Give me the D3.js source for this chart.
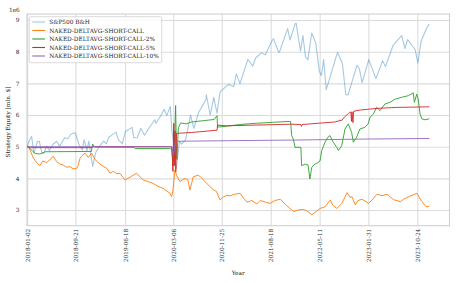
<!DOCTYPE html>
<html><head><meta charset="utf-8">
<script src="https://cdn.jsdelivr.net/npm/d3@7"></script>
<style>
body{margin:0;background:#fff}
svg{display:block}
text{font-family:"DejaVu Serif",serif;fill:#262626}
</style>
</head><body>
<svg id="chart" width="457" height="283"></svg>
<script>
const xTickLabels = ["2018-01-02","2018-09-21","2019-06-18","2020-03-06","2020-11-25","2021-08-18","2022-05-11","2023-01-31","2023-10-24"];
const yTickValues = [3,4,5,6,7,8,9];
const seriesNames = ["S&P500 B&H","NAKED-DELTAVG-SHORT-CALL","NAKED-DELTAVG-SHORT-CALL-2%","NAKED-DELTAVG-SHORT-CALL-5%","NAKED-DELTAVG-SHORT-CALL-10%"];
const seriesColors = ["#1f77b4","#ff7f0e","#2ca02c","#d62728","#9467bd"];
const seriesOpacity = [0.4,1,1,1,1];

const sp500 = [
["2018-01-02",5.00],["2018-01-12",5.17],["2018-01-26",5.33],["2018-02-08",4.79],["2018-02-26",5.16],["2018-03-09",5.17],
["2018-03-23",4.80],["2018-04-02",4.79],["2018-04-18",5.02],["2018-05-03",4.88],["2018-05-21",5.07],["2018-06-12",5.17],
["2018-06-27",5.01],["2018-07-25",5.28],["2018-08-10",5.25],["2018-08-29",5.40],["2018-09-20",5.44],["2018-10-11",5.06],
["2018-10-29",4.90],["2018-11-07",5.22],["2018-11-23",4.88],["2018-12-03",5.18],["2018-12-24",4.38],["2019-01-10",4.82],
["2019-01-31",5.02],["2019-02-22",5.18],["2019-03-08",5.09],["2019-03-21",5.29],["2019-04-12",5.39],["2019-04-30",5.46],
["2019-05-13",5.22],["2019-06-03",5.09],["2019-06-20",5.48],["2019-07-26",5.61],["2019-08-05",5.28],["2019-08-23",5.28],
["2019-09-12",5.58],["2019-10-02",5.36],["2019-10-31",5.63],["2019-11-27",5.85],["2019-12-03",5.74],["2019-12-31",5.99],
["2020-01-17",6.18],["2020-01-31",5.98],["2020-02-19",6.28],["2020-02-28",5.48],["2020-03-09",5.09],["2020-03-16",4.50],
["2020-03-23",4.32],["2020-04-09",5.17],["2020-04-21",5.08],["2020-05-13",5.23],["2020-06-08",6.00],["2020-06-26",5.58],
["2020-07-22",6.08],["2020-08-31",6.49],["2020-09-02",6.64],["2020-09-23",6.00],["2020-10-12",6.56],["2020-10-30",6.06],
["2020-11-16",6.73],["2020-12-31",6.97],["2021-01-29",6.89],["2021-02-12",7.30],["2021-03-04",6.99],["2021-04-16",7.76],
["2021-05-12",7.54],["2021-05-28",7.80],["2021-06-30",7.97],["2021-07-19",7.90],["2021-08-27",8.36],["2021-09-02",8.41],
["2021-09-30",7.99],["2021-10-04",7.98],["2021-11-18",8.73],["2021-12-01",8.37],["2021-12-29",8.89],["2022-01-03",8.90],
["2022-01-27",8.02],["2022-02-09",8.51],["2022-02-23",7.84],["2022-03-08",7.74],["2022-03-29",8.59],["2022-04-20",8.27],
["2022-05-09",7.40],["2022-05-20",7.24],["2022-06-02",7.75],["2022-06-16",6.80],["2022-07-08",7.23],["2022-08-16",7.98],
["2022-09-12",7.62],["2022-09-30",6.65],["2022-10-12",6.63],["2022-11-30",7.57],["2022-12-13",7.46],["2022-12-28",7.02],
["2023-02-02",7.75],["2023-03-13",7.15],["2023-04-18",7.71],["2023-05-04",7.53],["2023-06-15",8.21],["2023-07-31",8.51],
["2023-08-18",8.10],["2023-09-01",8.38],["2023-10-12",8.07],["2023-10-27",7.64],["2023-11-14",8.34],["2023-12-14",8.75],
["2023-12-28",8.87]
];

const shortCall = [
["2018-01-02",5.00],["2018-01-12",4.97],["2018-02-04",4.65],["2018-02-22",4.50],["2018-03-12",4.40],["2018-03-28",4.55],
["2018-04-17",4.50],["2018-05-05",4.58],["2018-05-23",4.70],["2018-06-11",4.53],["2018-06-29",4.45],["2018-07-17",4.42],
["2018-08-04",4.35],["2018-08-22",4.37],["2018-09-09",4.30],["2018-09-28",4.32],["2018-10-06",4.40],["2018-10-16",4.63],
["2018-10-25",4.70],["2018-11-12",4.80],["2018-11-30",4.66],["2018-12-18",4.80],["2019-01-05",4.60],["2019-02-01",4.45],
["2019-02-19",4.38],["2019-03-10",4.32],["2019-03-28",4.16],["2019-04-15",4.22],["2019-05-03",4.15],["2019-05-21",4.16],
["2019-06-17",3.95],["2019-07-05",4.00],["2019-08-01",4.10],["2019-08-20",4.16],["2019-09-07",4.05],["2019-09-25",3.95],
["2019-10-20",3.90],["2019-11-18",3.84],["2019-12-14",3.75],["2020-01-12",3.68],["2020-02-01",3.60],["2020-02-17",3.53],
["2020-02-26",3.42],["2020-03-04",3.60],["2020-03-15",4.26],["2020-03-24",4.10],["2020-04-11",3.90],["2020-05-09",4.00],
["2020-05-25",3.95],["2020-06-05",3.63],["2020-06-23",4.05],["2020-07-20",4.10],["2020-08-07",4.02],["2020-08-25",3.90],
["2020-09-22",3.74],["2020-10-08",3.65],["2020-10-28",3.58],["2020-11-15",3.32],["2020-12-01",3.40],["2020-12-23",3.47],
["2021-01-08",3.45],["2021-02-05",3.50],["2021-03-05",3.53],["2021-03-20",3.40],["2021-04-11",3.25],["2021-05-08",3.30],
["2021-06-03",3.19],["2021-06-22",3.30],["2021-07-27",3.24],["2021-08-16",3.21],["2021-09-10",3.30],["2021-10-09",3.34],
["2021-11-13",3.14],["2021-12-21",2.95],["2022-01-13",3.00],["2022-02-12",3.02],["2022-03-09",2.95],["2022-03-30",2.85],
["2022-04-21",2.95],["2022-05-14",3.05],["2022-06-09",3.10],["2022-07-08",3.32],["2022-07-22",3.15],["2022-08-13",3.05],
["2022-09-09",3.21],["2022-10-07",3.55],["2022-10-23",3.40],["2022-11-03",3.42],["2022-11-21",3.16],["2022-12-05",3.30],
["2022-12-27",3.34],["2023-02-02",3.21],["2023-02-25",3.35],["2023-03-19",3.50],["2023-04-15",3.45],["2023-05-12",3.50],
["2023-05-28",3.42],["2023-06-18",3.32],["2023-07-06",3.30],["2023-07-23",3.26],["2023-08-13",3.35],["2023-09-07",3.42],
["2023-10-01",3.48],["2023-10-22",3.53],["2023-11-08",3.35],["2023-11-19",3.26],["2023-12-05",3.14],["2023-12-16",3.10],
["2023-12-28",3.12]
];

const shortCall2 = [
["2018-01-02",5.00],["2018-01-17",4.95],["2018-02-02",4.85],["2018-02-18",4.78],["2018-03-12",4.77],["2018-04-10",4.84],
["2018-12-17",4.85],["2018-12-24",5.08],["2019-01-05",4.99],["2019-08-05",4.98],["2019-08-11",4.94],["2020-02-20",4.94],
["2020-02-28",4.90],["2020-03-05",4.40],["2020-03-09",5.50],["2020-03-12",4.60],["2020-03-16",5.70],["2020-03-19",6.30],
["2020-03-23",5.00],["2020-03-26",4.60],["2020-04-03",5.60],["2020-04-15",5.75],["2020-05-15",5.72],["2020-06-15",5.78],
["2020-07-15",5.80],["2020-08-15",5.82],["2020-09-15",5.84],["2020-10-15",5.86],["2020-10-30",5.98],["2020-11-02",5.62],
["2020-12-15",5.64],["2021-03-01",5.70],["2021-06-01",5.74],["2021-09-01",5.77],["2021-12-04",5.80],["2021-12-10",5.35],
["2021-12-19",5.24],["2021-12-28",4.98],["2022-01-29",4.98],["2022-02-02",4.40],["2022-02-20",4.45],["2022-03-09",4.42],
["2022-03-19",3.98],["2022-03-29",4.35],["2022-04-16",4.45],["2022-05-02",4.50],["2022-05-13",4.55],["2022-05-22",4.87],
["2022-06-09",5.14],["2022-06-25",5.30],["2022-07-06",5.35],["2022-07-24",5.14],["2022-08-12",4.98],["2022-08-21",4.88],
["2022-09-08",5.03],["2022-09-26",5.56],["2022-10-14",5.72],["2022-11-01",5.45],["2022-11-10",5.14],["2022-11-28",5.30],
["2022-12-16",5.56],["2023-01-12",5.61],["2023-01-30",5.72],["2023-02-09",5.93],["2023-02-27",6.03],["2023-03-17",6.24],
["2023-04-04",6.14],["2023-05-01",6.35],["2023-05-28",6.40],["2023-06-25",6.50],["2023-07-31",6.56],["2023-09-05",6.61],
["2023-10-02",6.70],["2023-10-08",6.40],["2023-10-21",6.66],["2023-10-29",6.50],["2023-11-08",6.03],["2023-11-17",5.88],
["2023-12-05",5.85],["2023-12-28",5.88]
];

const shortCall5 = [
["2018-01-02",5.00],["2018-01-20",4.97],["2018-12-20",4.97],["2018-12-26",5.00],["2020-02-26",5.00],["2020-03-02",4.60],
["2020-03-04",4.22],["2020-03-09",5.74],["2020-03-12",4.40],["2020-03-16",5.50],["2020-03-20",4.21],["2020-03-24",5.42],
["2020-06-15",5.45],["2020-10-30",5.52],["2020-11-02",5.68],["2020-12-20",5.66],["2021-12-04",5.71],["2022-01-28",5.70],
["2022-02-01",5.64],["2022-02-04",5.70],["2022-08-01",5.78],["2022-09-10",5.84],["2022-09-25",5.95],["2022-10-15",6.05],
["2022-10-28",6.10],["2022-10-31",5.80],["2022-11-03",6.10],["2022-11-08",5.76],["2022-11-12",6.12],["2022-12-20",6.16],
["2023-03-20",6.21],["2023-07-01",6.24],["2023-12-28",6.26]
];

const shortCall10 = [
["2018-01-02",5.00],["2020-02-28",5.00],["2020-03-04",4.82],["2020-03-09",4.75],["2020-03-16",5.17],["2021-01-01",5.19],
["2022-01-01",5.21],["2023-01-01",5.24],["2023-12-28",5.26]
];

const allSeries = [sp500, shortCall, shortCall2, shortCall5, shortCall10];

const parse = d3.timeParse("%Y-%m-%d");
const svg = d3.select("#chart");
const L = 27, R = 449.5, T = 14, B = 225.7;
const x = d3.scaleTime().domain([parse("2018-01-01"), parse("2024-04-16")]).range([L, R]);
const y = d3.scaleLinear().domain([2.505, 9.19]).range([B, T]);

const gridColor = "#dcdcdc";
// grid + x tick labels
const xAxis = d3.axisBottom(x).tickValues(xTickLabels.map(parse)).tickFormat(d3.timeFormat("%Y-%m-%d")).tickSize(-(B - T)).tickPadding(0);
const gx = svg.append("g").attr("transform", `translate(0,${B})`).call(xAxis);
gx.select(".domain").remove();
gx.selectAll(".tick line").attr("stroke", gridColor).attr("stroke-width", 1.1);
gx.selectAll(".tick text")
  .attr("transform", "rotate(-90)")
  .attr("x", -3).attr("y", 0).attr("dy", "0.35em")
  .attr("text-anchor", "end")
  .style("font-family", '"DejaVu Serif",serif').style("font-size", "5.8px").attr("fill", "#262626");

const yAxis = d3.axisLeft(y).tickValues(yTickValues).tickFormat(d3.format("d")).tickSize(-(R - L)).tickPadding(7.5);
const gy = svg.append("g").attr("transform", `translate(${L},0)`).call(yAxis);
gy.select(".domain").remove();
gy.selectAll(".tick line").attr("stroke", gridColor).attr("stroke-width", 1.1);
gy.selectAll(".tick text").style("font-family", '"DejaVu Serif",serif').style("font-size", "5.8px").attr("fill", "#262626");

// frame
svg.append("rect").attr("x", L).attr("y", T).attr("width", R - L).attr("height", B - T)
  .attr("fill", "none").attr("stroke", "#d0d0d0").attr("stroke-width", 1.1);

svg.append("clipPath").attr("id", "clip").append("rect").attr("x", L).attr("y", T).attr("width", R - L).attr("height", B - T);

const line = d3.line().x(d => x(parse(d[0]))).y(d => y(d[1]));
const plot = svg.append("g").attr("clip-path", "url(#clip)");
allSeries.forEach((s, i) => {
  plot.append("path").datum(s).attr("d", line)
    .attr("fill", "none").attr("stroke", seriesColors[i]).attr("stroke-opacity", seriesOpacity[i])
    .attr("stroke-width", i === 0 ? 1.1 : 0.9).attr("stroke-linejoin", "round");
});

// offset text
svg.append("text").attr("x", 9).attr("y", 12).style("font-size", "5.8px").text("1e6");
// axis labels
svg.append("text").attr("transform", `translate(10,122) rotate(-90)`).attr("text-anchor", "middle").style("font-size", "5.8px").text("Strategy Equity [mln. $]");
svg.append("text").attr("x", (L + R) / 2).attr("y", 275).attr("text-anchor", "middle").style("font-size", "5.8px").text("Year");

// legend
const lg = svg.append("g");
lg.append("rect").attr("x", 29.3).attr("y", 16.7).attr("width", 132.4).attr("height", 46).attr("rx", 1.5)
  .attr("fill", "#fff").attr("fill-opacity", 0.85).attr("stroke", "#d0d0d0").attr("stroke-width", 0.8);
seriesNames.forEach((name, i) => {
  const yy = 22 + i * 8.5;
  lg.append("line").attr("x1", 32.3).attr("x2", 45).attr("y1", yy).attr("y2", yy)
    .attr("stroke", seriesColors[i]).attr("stroke-opacity", seriesOpacity[i]).attr("stroke-width", 1.1);
  lg.append("text").attr("x", 49.3).attr("y", yy).attr("dy", "0.35em").style("font-size", "5.8px").text(name);
});
</script>
</body></html>
